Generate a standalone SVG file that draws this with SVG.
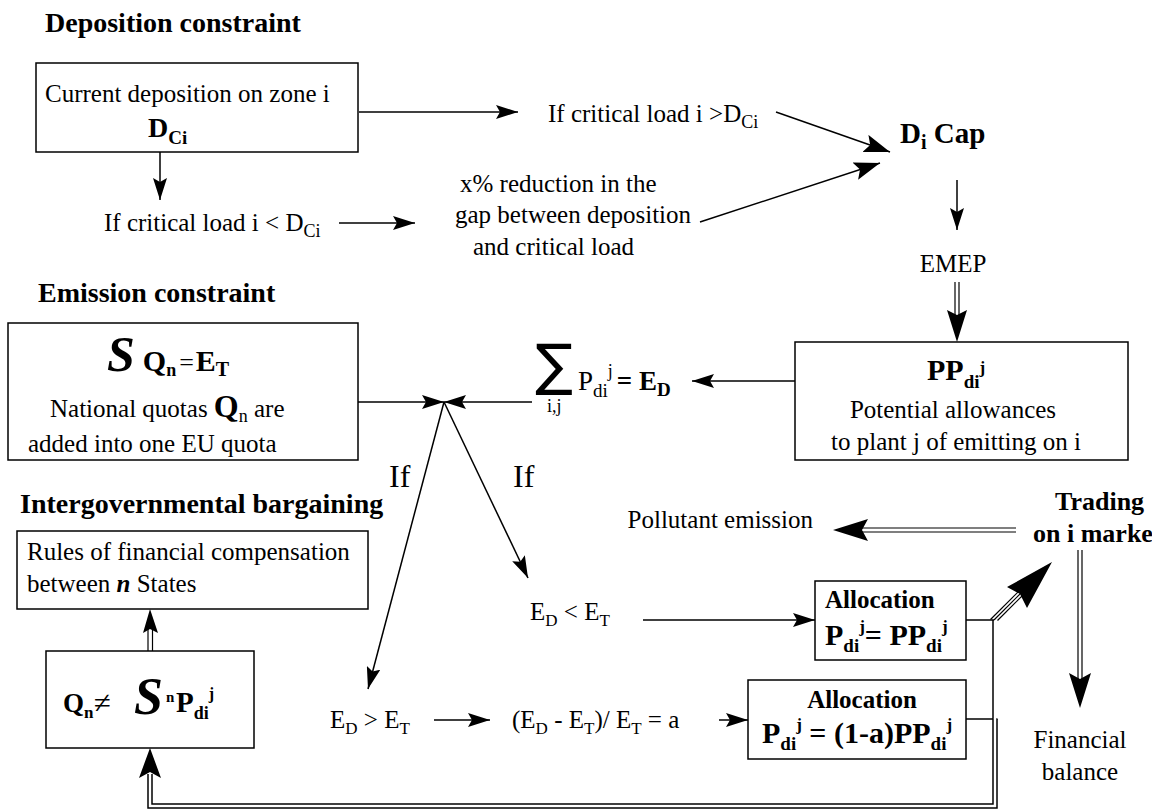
<svg xmlns="http://www.w3.org/2000/svg" width="1152" height="809" viewBox="0 0 1152 809" font-family="'Liberation Serif','Times New Roman','DejaVu Serif',serif" font-size="25">
<defs>
<style>
.h{font-size:28px;font-weight:bold}
.b{font-weight:bold}
.bi{font-weight:bold;font-style:italic}
.box{fill:#fff;stroke:#000;stroke-width:1.5}
.ln{fill:none;stroke:#000;stroke-width:1.5}
.th{fill:none;stroke:#000;stroke-width:1.2}
.dblo{fill:none;stroke:#000;stroke-width:5.5}
.dbli{fill:none;stroke:#fff;stroke-width:2.5}
.hd{fill:#000;stroke:none}
</style>
<marker id="ah" markerUnits="userSpaceOnUse" markerWidth="22" markerHeight="14" refX="22" refY="7" orient="auto">
<path d="M0,0 L22,7 L0,14 L4,7 z" fill="#000"/>
</marker>
<marker id="ahL" markerUnits="userSpaceOnUse" markerWidth="26" markerHeight="18" refX="26" refY="9" orient="auto">
<path d="M0,0 L26,9 L0,18 L5,9 z" fill="#000"/>
</marker>
</defs>
<rect width="1152" height="809" fill="#fff"/>

<!-- section titles -->
<text class="h" x="45" y="32">Deposition constraint</text>
<text class="h" x="38" y="302">Emission constraint</text>
<text class="h" x="20" y="513">Intergovernmental bargaining</text>

<g id="connectors">
<line class="ln" x1="359" y1="112" x2="518" y2="112" marker-end="url(#ah)"/>
<line class="ln" x1="776" y1="112" x2="890" y2="152" marker-end="url(#ahL)"/>
<line class="ln" x1="700" y1="222" x2="880" y2="163" marker-end="url(#ahL)"/>
<line class="ln" x1="160" y1="152" x2="160" y2="200" marker-end="url(#ah)"/>
<line class="ln" x1="339" y1="223" x2="415" y2="223" marker-end="url(#ah)"/>
<line class="ln" x1="957" y1="180" x2="957" y2="230" marker-end="url(#ah)"/>
<line class="ln" x1="795" y1="381" x2="692" y2="381" marker-end="url(#ah)"/>
<line class="ln" x1="358" y1="402" x2="444" y2="402" marker-end="url(#ah)"/>
<line class="ln" x1="532" y1="402" x2="444" y2="402" marker-end="url(#ah)"/>
<line class="ln" x1="444" y1="402" x2="368" y2="689" marker-end="url(#ah)"/>
<line class="ln" x1="444" y1="402" x2="528" y2="578" marker-end="url(#ah)"/>
<line class="ln" x1="643" y1="620" x2="815" y2="620" marker-end="url(#ah)"/>
<line class="ln" x1="434" y1="720" x2="490" y2="720" marker-end="url(#ah)"/>
<line class="ln" x1="719" y1="720" x2="748" y2="720" marker-end="url(#ah)"/>

<!-- EMEP double arrow -->
<line class="th" x1="955" y1="282" x2="955" y2="316"/>
<line class="th" x1="959" y1="282" x2="959" y2="316"/>
<polygon class="hd" points="957,342 947,310 957,315 967,310"/>

<!-- Trading -> Pollutant emission -->
<line class="th" x1="862" y1="528" x2="1016" y2="528"/>
<line class="th" x1="862" y1="532" x2="1016" y2="532"/>
<polygon class="hd" points="833,530 868,519 862,530 868,541"/>

<!-- Trading -> Financial balance -->
<line class="th" x1="1078" y1="550" x2="1078" y2="679"/>
<line class="th" x1="1082" y1="550" x2="1082" y2="679"/>
<polygon class="hd" points="1080,708 1069,673 1080,679 1091,673"/>

<!-- allocation 1 -> trading -->
<line class="ln" x1="966" y1="620" x2="994" y2="620"/>
<line class="ln" x1="993" y1="620" x2="993" y2="719"/>
<line class="th" x1="994" y1="620" x2="1022" y2="592"/>
<line class="th" x1="990.5" y1="619.5" x2="1019" y2="591"/>
<line class="th" x1="997.5" y1="620.5" x2="1025" y2="593"/>
<polygon class="hd" points="1052,562 1007,587 1020,594 1027,608"/>

<!-- allocation 2 -> feedback loop -->
<line class="ln" x1="966" y1="719" x2="997.5" y2="719"/>
<path class="dblo" d="M995,719 V806 H150 V774"/>
<path class="dbli" d="M995,718 V806 H150 V773"/>
<polygon class="hd" points="150,748 139,778 150,772 161,778"/>

<!-- Q box -> Rules box -->
<line class="th" x1="148" y1="651" x2="148" y2="629"/>
<line class="th" x1="152.5" y1="651" x2="152.5" y2="629"/>
<polygon class="hd" points="150,609 143,633 150,629 158,633"/>
</g>

<g id="node-current-deposition">
<rect class="box" x="36" y="63" width="322" height="89"/>
<text x="45" y="102">Current deposition on zone i</text>
<text class="b" x="148" y="137" font-size="28">D<tspan font-size="19" dy="7">Ci</tspan></text>
</g>

<g id="node-if-greater">
<text x="548" y="122">If critical load i &gt;D<tspan font-size="18" dy="6">Ci</tspan></text>
</g>

<g id="node-if-less">
<text x="104" y="231">If critical load i &lt; D<tspan font-size="18" dy="6">Ci</tspan></text>
</g>

<g id="node-reduction">
<text x="460" y="192">x% reduction in the</text>
<text x="455" y="223">gap between deposition</text>
<text x="473" y="255">and critical load</text>
</g>

<g id="node-dcap">
<text class="b" x="900" y="143" font-size="29">D<tspan font-size="20" dy="6">i</tspan><tspan dy="-6"> Cap</tspan></text>
</g>

<g id="node-emep">
<text x="953" y="272" text-anchor="middle">EMEP</text>
</g>

<g id="node-pp">
<rect class="box" x="795" y="342" width="333" height="118"/>
<text class="b" x="927" y="380" font-size="30">PP<tspan font-size="19" dy="8">di</tspan><tspan font-size="17" dy="-15">j</tspan></text>
<text x="953" y="418" text-anchor="middle">Potential allowances</text>
<text x="956" y="450" text-anchor="middle">to plant j of emitting on i</text>
</g>

<g id="node-sum">
<text x="535" y="384" font-family="'DejaVu Sans',sans-serif" font-size="56">∑</text>
<text x="547" y="412" font-size="18">i,j</text>
<text x="578" y="390" font-size="27">P<tspan font-size="19" dy="7">di</tspan><tspan font-size="18" dy="-20">j</tspan><tspan dy="13" dx="4" class="b" font-size="27">= E</tspan><tspan class="b" font-size="19" dy="6">D</tspan></text>
</g>

<g id="node-emission">
<rect class="box" x="8" y="323" width="350" height="137"/>
<text x="107" y="371"><tspan class="bi" font-size="50">S</tspan><tspan class="b" font-size="30" dx="8">Q</tspan><tspan class="b" font-size="18" dy="5">n</tspan><tspan font-size="26" dy="-5" dx="3">=</tspan><tspan class="b" font-size="30" dx="2">E</tspan><tspan class="b" font-size="20" dy="5">T</tspan></text>
<text x="50" y="417">National quotas <tspan class="b" font-size="32">Q</tspan><tspan font-size="18" dy="5">n</tspan><tspan dy="-5"> are</tspan></text>
<text x="28" y="452">added into one EU quota</text>
</g>

<g id="node-if-labels">
<text x="389" y="487" font-size="32">If</text>
<text x="513" y="487" font-size="32">If</text>
</g>

<g id="node-rules">
<rect class="box" x="17" y="531" width="351" height="78"/>
<text x="27" y="560">Rules of financial compensation</text>
<text x="27" y="592">between  <tspan class="bi">n</tspan> States</text>
</g>

<g id="node-qn">
<rect class="box" x="46" y="651" width="208" height="97"/>
<text class="b" x="63" y="712" font-size="27">Q<tspan font-size="17" dy="6">n</tspan></text>
<text x="94" y="713" font-size="31">≠</text>
<text class="bi" x="134" y="714" font-size="52">S</text>
<text class="b" x="166" y="702" font-size="15">n</text>
<text class="b" x="176" y="712" font-size="29">P<tspan font-size="18" dy="7">di</tspan><tspan font-size="16" dy="-20">j</tspan></text>
</g>

<g id="node-ed-lt-et">
<text x="530" y="620">E<tspan font-size="17" dy="6">D</tspan><tspan dy="-6"> &lt; E</tspan><tspan font-size="17" dy="6">T</tspan></text>
</g>

<g id="node-ed-gt-et">
<text x="330" y="728">E<tspan font-size="17" dy="6">D</tspan><tspan dy="-6"> &gt; E</tspan><tspan font-size="17" dy="6">T</tspan></text>
</g>

<g id="node-ratio">
<text x="512" y="728">(E<tspan font-size="17" dy="6">D</tspan><tspan dy="-6"> - E</tspan><tspan font-size="17" dy="6">T</tspan><tspan dy="-6">)/ E</tspan><tspan font-size="17" dy="6">T</tspan><tspan dy="-6"> = a</tspan></text>
</g>

<g id="node-allocation1">
<rect class="box" x="815" y="581" width="151" height="79"/>
<text class="b" x="825" y="608">Allocation</text>
<text class="b" x="825" y="645" font-size="30">P<tspan font-size="19" dy="7">di</tspan><tspan font-size="17" dy="-20">j</tspan><tspan dy="13">= PP</tspan><tspan font-size="19" dy="7">di</tspan><tspan font-size="17" dy="-20">j</tspan></text>
</g>

<g id="node-allocation2">
<rect class="box" x="748" y="680" width="218" height="79"/>
<text class="b" x="862" y="708" text-anchor="middle">Allocation</text>
<text class="b" x="762" y="743" font-size="30">P<tspan font-size="19" dy="7">di</tspan><tspan font-size="17" dy="-20">j</tspan><tspan dy="13"> = (1-a)PP</tspan><tspan font-size="19" dy="7">di</tspan><tspan font-size="17" dy="-20">j</tspan></text>
</g>

<g id="node-pollutant">
<text x="813" y="528" text-anchor="end">Pollutant emission</text>
</g>

<g id="node-trading">
<text class="b" x="1055" y="510" font-size="26">Trading</text>
<text class="b" x="1033" y="542" font-size="26">on i market</text>
</g>

<g id="node-financial">
<text x="1080" y="748" text-anchor="middle">Financial</text>
<text x="1080" y="780" text-anchor="middle">balance</text>
</g>
</svg>
